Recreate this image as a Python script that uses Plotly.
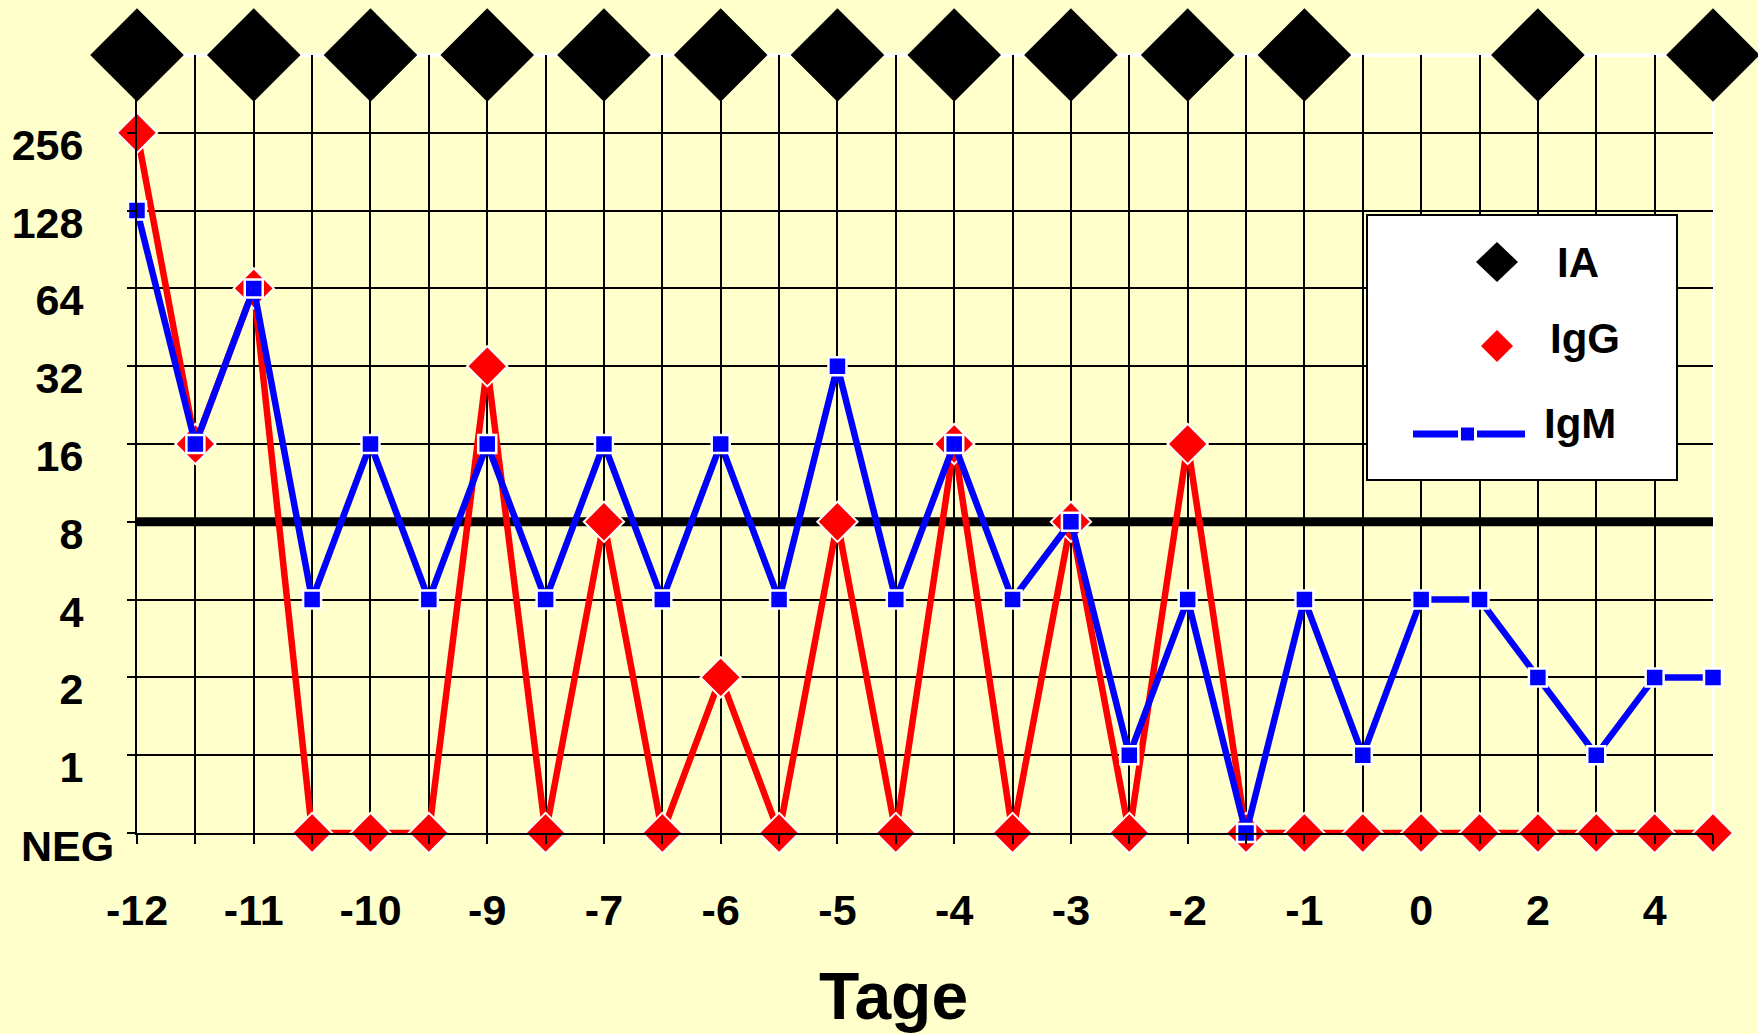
import math

import plotly.graph_objects as go

# titre per sampling point (28 points), "NEG" = negative
X_TICK_LABELS = ["-12", "", "-11", "", "-10", "", "-9", "", "-7", "", "-6", "", "-5", "",
                 "-4", "", "-3", "", "-2", "", "-1", "", "0", "", "2", "", "4", ""]
IA_POSITIVE = [1, 0, 1, 0, 1, 0, 1, 0, 1, 0, 1, 0, 1, 0, 1, 0, 1, 0, 1, 0, 1, 0, 0, 0, 1, 0, 0, 1]
IGG = [256, 16, 64, "NEG", "NEG", "NEG", 32, "NEG", 8, "NEG", 2, "NEG", 8, "NEG",
       16, "NEG", 8, "NEG", 16, "NEG", "NEG", "NEG", "NEG", "NEG", "NEG", "NEG", "NEG", "NEG"]
IGM = [128, 16, 64, 4, 16, 4, 16, 4, 16, 4, 16, 4, 32, 4,
       16, 4, 8, 1, 4, "NEG", 4, 1, 4, 4, 2, 1, 2, 2]
Y_LEVELS = [0.5, 1, 2, 4, 8, 16, 32, 64, 128, 256]
Y_LABELS = ["NEG", "1", "2", "4", "8", "16", "32", "64", "128", "256"]
IA_ROW = 512
CUTOFF = 8

BG = "#FFFFCC"
FONT = "Liberation Sans, Arial, sans-serif"

# plot area in pixels
W, H = 1758, 1034
L, R, T, B = 137, 45, 55, 201
PW, PH = W - L - R, H - T - B


def titre(v):
    return 0.5 if v == "NEG" else v


def px(x, y):
    return (x - L) / PW, (H - B - y) / PH


x = list(range(len(IGG)))

fig = go.Figure()
fig.add_trace(go.Scatter(
    x=[i for i, p in zip(x, IA_POSITIVE) if p],
    y=[IA_ROW for p in IA_POSITIVE if p],
    mode="markers", name="IA",
    marker=dict(symbol="diamond", size=72, color="black", line=dict(width=0)),
    cliponaxis=False,
))
fig.add_trace(go.Scatter(
    x=x, y=[titre(v) for v in IGG], mode="lines+markers", name="IgG",
    line=dict(color="#FF0000", width=6.5),
    marker=dict(symbol="diamond", size=31, color="#FF0000", line=dict(color="white", width=2)),
    cliponaxis=False,
))
fig.add_trace(go.Scatter(
    x=x, y=[titre(v) for v in IGM], mode="lines+markers", name="IgM",
    line=dict(color="#0000FF", width=6.5),
    marker=dict(symbol="square", size=18, color="#0000FF", line=dict(color="white", width=2.5)),
    cliponaxis=False,
))

shapes = [
    # cut-off line
    dict(type="line", xref="x", yref="y", x0=0, x1=len(x) - 1, y0=CUTOFF, y1=CUTOFF,
         line=dict(color="black", width=9), layer="between"),
    # white top / right border
    dict(type="line", xref="paper", yref="paper", x0=0, x1=1, y0=1, y1=1,
         line=dict(color="white", width=4), layer="between"),
    dict(type="line", xref="paper", yref="paper", x0=1, x1=1, y0=0, y1=1,
         line=dict(color="white", width=3), layer="between"),
]

# custom legend box
lx0, ly0 = px(1367, 480)
lx1, ly1 = px(1677, 215)
shapes.append(dict(type="rect", xref="paper", yref="paper", x0=lx0, x1=lx1, y0=ly0, y1=ly1,
                   fillcolor="white", line=dict(color="black", width=2), layer="above"))


def diamond(cx, cy, hw, hh, color):
    ax, ay = px(cx, cy)
    return dict(type="path", xref="paper", yref="paper", xsizemode="pixel", ysizemode="pixel",
                xanchor=ax, yanchor=ay, path=f"M {-hw} 0 L 0 {hh} L {hw} 0 L 0 {-hh} Z",
                fillcolor=color, line=dict(width=0), layer="above")


shapes.append(diamond(1497, 262, 21, 20, "black"))
shapes.append(diamond(1497, 346, 16, 16, "#FF0000"))
mx0, my = px(1413, 434)
mx1, _ = px(1525, 434)
shapes.append(dict(type="line", xref="paper", yref="paper", x0=mx0, x1=mx1, y0=my, y1=my,
                   line=dict(color="#0000FF", width=7), layer="above"))
sx, sy = px(1467.5, 434)
shapes.append(dict(type="rect", xref="paper", yref="paper", xsizemode="pixel", ysizemode="pixel",
                   xanchor=sx, yanchor=sy, x0=-8, x1=8, y0=-8, y1=8,
                   fillcolor="#0000FF", line=dict(color="white", width=3), layer="above"))

annotations = []
for name, (cx, cy) in zip(["IA", "IgG", "IgM"], [(1555, 262), (1548, 338), (1542, 423)]):
    ax, ay = px(cx, cy)
    annotations.append(dict(text=name, xref="paper", yref="paper", x=ax, y=ay,
                            xanchor="left", yanchor="middle", showarrow=False,
                            font=dict(family=FONT, size=42, color="black", weight="bold")))

# NEG label sits further right than the numeric labels
annotations.append(dict(text=Y_LABELS[0], xref="paper", yref="y", x=0, y=math.log10(Y_LEVELS[0]),
                        xanchor="right", yanchor="middle", xshift=-21, yshift=-13, showarrow=False,
                        font=dict(family=FONT, size=43, color="black", weight="bold")))
tx, ty = px(893, 996)
annotations.append(dict(text="Tage", xref="paper", yref="paper", x=tx, y=ty,
                        xanchor="center", yanchor="middle", showarrow=False,
                        font=dict(family=FONT, size=66, color="black", weight="bold")))

fig.update_layout(
    width=W, height=H,
    margin=dict(l=L, r=R, t=T, b=B, pad=0),
    paper_bgcolor=BG, plot_bgcolor=BG,
    showlegend=False,
    shapes=shapes,
    annotations=annotations,
    font=dict(family=FONT, size=43, color="black", weight="bold"),
)
fig.update_xaxes(
    range=[0, len(x) - 1], tickvals=x, ticktext=X_TICK_LABELS, automargin=False,
    showgrid=True, gridcolor="black", gridwidth=2, zeroline=False,
    showline=True, linecolor="black", linewidth=2,
    ticks="outside", ticklen=9, tickwidth=2, tickcolor="black",
    ticklabelstandoff=29,
    tickfont=dict(family=FONT, size=43, color="black", weight="bold"),
)
fig.update_yaxes(
    type="log", range=[math.log10(0.5), math.log10(512)], automargin=False,
    tickvals=Y_LEVELS, ticktext=[""] + Y_LABELS[1:],
    showgrid=True, gridcolor="black", gridwidth=2, zeroline=False,
    showline=True, linecolor="black", linewidth=2,
    ticks="outside", ticklen=8, tickwidth=2, tickcolor="black",
    ticklabelstandoff=35, ticklabelshift=12,
    tickfont=dict(family=FONT, size=43, color="black", weight="bold"),
)

fig.write_html("out.html", config={"displayModeBar": False},
               post_script="document.body.style.margin='0';")
